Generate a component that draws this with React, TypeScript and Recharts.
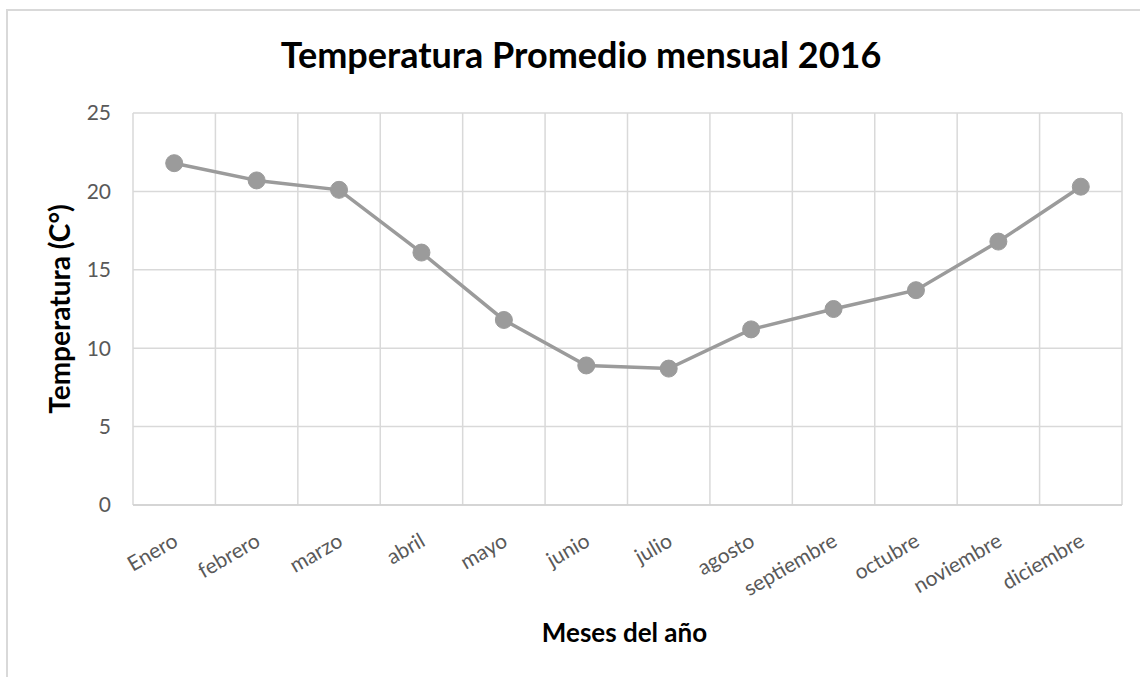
import { CartesianGrid, Line, LineChart, XAxis, YAxis } from 'recharts';

const meses = ['Enero', 'febrero', 'marzo', 'abril', 'mayo', 'junio', 'julio', 'agosto', 'septiembre', 'octubre', 'noviembre', 'diciembre'];
const temperaturas = [21.8, 20.7, 20.1, 16.1, 11.8, 8.9, 8.7, 11.2, 12.5, 13.7, 16.8, 20.3];
const yTicks = [0, 5, 10, 15, 20, 25];

const data = meses.map((mes, i) => ({ mes, temp: temperaturas[i] }));

const FONT = 'Lato, "Noto Sans", sans-serif';

const MesTick = ({ x, y, payload }: any) => (
    <g transform={`translate(${x + 5},${y + 32})`}>
        <text x={0} y={0} textAnchor="end" transform="rotate(-30)" fill="#595959" fontSize={21} fontFamily={FONT}>
            {payload.value}
        </text>
    </g>
);

// vertical grid lines sit between the months, not on them
const bordesMeses = ({ offset }: any) =>
    meses.concat('').map((_, i) => offset.left + (offset.width * i) / meses.length);

const App = () => {
    return (
        <div style={{ position: 'fixed', left: 0, top: 0, width: 1140, height: 677, background: '#fff', overflow: 'hidden' }}>
            <div style={{ position: 'absolute', left: 6, top: 9, width: 1160, height: 700, border: '2px solid #d9d9d9' }} />
            <div style={{ position: 'absolute', left: 0, top: 32, width: 1162, textAlign: 'center', fontFamily: FONT, fontWeight: 700, fontSize: 36, color: '#000' }}>
                Temperatura Promedio mensual 2016
            </div>
            <div style={{ position: 'absolute', left: 0, top: 0 }}>
                <LineChart width={1140} height={677} data={data} margin={{ top: 113, right: 18, left: 0, bottom: 0 }}>
                    <CartesianGrid stroke="#d9d9d9" strokeWidth={1.5} verticalCoordinatesGenerator={bordesMeses} />
                    <XAxis
                        dataKey="mes"
                        scale="band"
                        height={172}
                        axisLine={{ stroke: '#d0d0d0', strokeWidth: 1.5 }}
                        tickLine={false}
                        tick={<MesTick />}
                        interval={0}
                        label={{ value: 'Meses del año', position: 'insideBottom', offset: 35, dx: -3, fill: '#000', fontSize: 26, fontWeight: 700, fontFamily: FONT }}
                    />
                    <YAxis
                        width={133}
                        domain={[0, 25]}
                        ticks={yTicks}
                        axisLine={false}
                        tickLine={false}
                        tickSize={0}
                        tickMargin={22}
                        tick={{ fill: '#595959', fontSize: 21, fontFamily: FONT }}
                        label={{ value: 'Temperatura  (C°)', angle: -90, position: 'center', dx: -6, fill: '#000', fontSize: 28, fontWeight: 700, fontFamily: FONT, style: { whiteSpace: 'pre' } }}
                    />
                    <Line
                        dataKey="temp"
                        stroke="#9b9b9b"
                        strokeWidth={3.5}
                        dot={{ r: 8.5, fill: '#9b9b9b', stroke: '#9b9b9b', strokeWidth: 1 }}
                        activeDot={false}
                        isAnimationActive={false}
                    />
                </LineChart>
            </div>
        </div>
    );
};

export default App;
